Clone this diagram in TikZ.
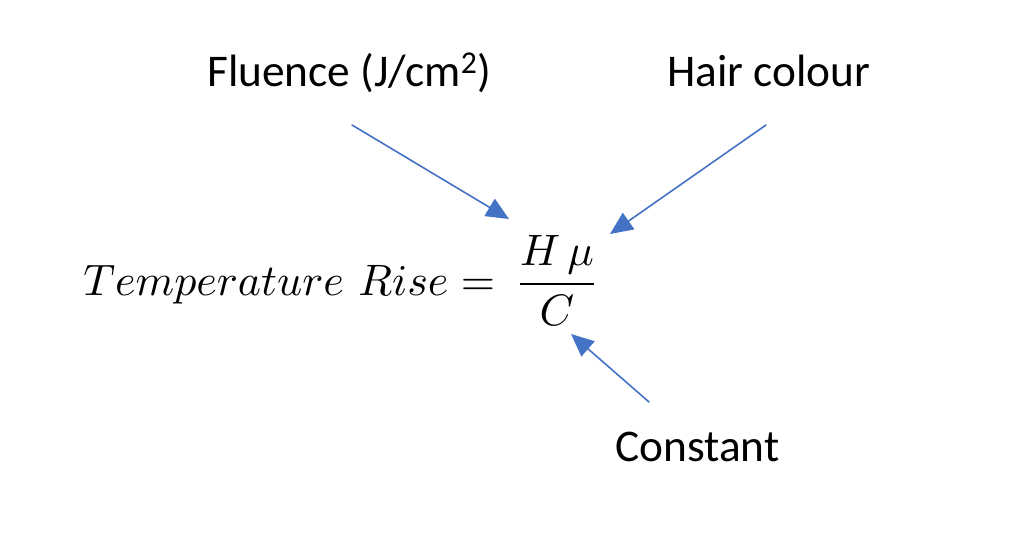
\documentclass[tikz,border=0pt]{standalone}
\usepackage{fontspec}
\newfontfamily\calib{Carlito}
\usetikzlibrary{arrows.meta}
\definecolor{arrowblue}{HTML}{4472C4}
\begin{document}
\begin{tikzpicture}[x=0.75pt, y=-0.75pt, line join=round, line cap=round, >={Triangle[length=17pt,width=15pt]}]
	\tikzset{lbl/.style={inner sep=0pt, font=\calib\fontsize{34}{40}\selectfont},
		eqn/.style={inner sep=0pt, scale=3.3, transform shape},
		pointer/.style={->, draw=arrowblue, fill=arrowblue, line width=1.2pt}}
	\useasboundingbox (0,0) rectangle (1023,546);
	% labels
	\node[lbl, anchor=base west] (fluence) at (207,86) {Fluence (J/cm\textsuperscript{2})};
	\node[lbl, anchor=base west] (hair) at (667,86) {Hair colour};
	\node[lbl, anchor=base west] (const) at (615,461) {Constant};
	% equation
	\node[eqn, anchor=base east] (lhs) at (496,295) {$Temperature\ Rise =$};
	\node[eqn, anchor=base] (frac) at (557,295) {$\displaystyle\frac{H\,\mu}{C}$};
	% arrows
	\coordinate (fluencetail) at (352,125);
	\coordinate (fluencetip) at (509,219);
	\coordinate (hairtail) at (766,125);
	\coordinate (hairtip) at (610,234);
	\coordinate (consttail) at (649,402);
	\coordinate (consttip) at (571,334);
	\draw[pointer] (fluencetail) -- (fluencetip);
	\draw[pointer] (hairtail) -- (hairtip);
	\draw[pointer] (consttail) -- (consttip);
\end{tikzpicture}
\end{document}
